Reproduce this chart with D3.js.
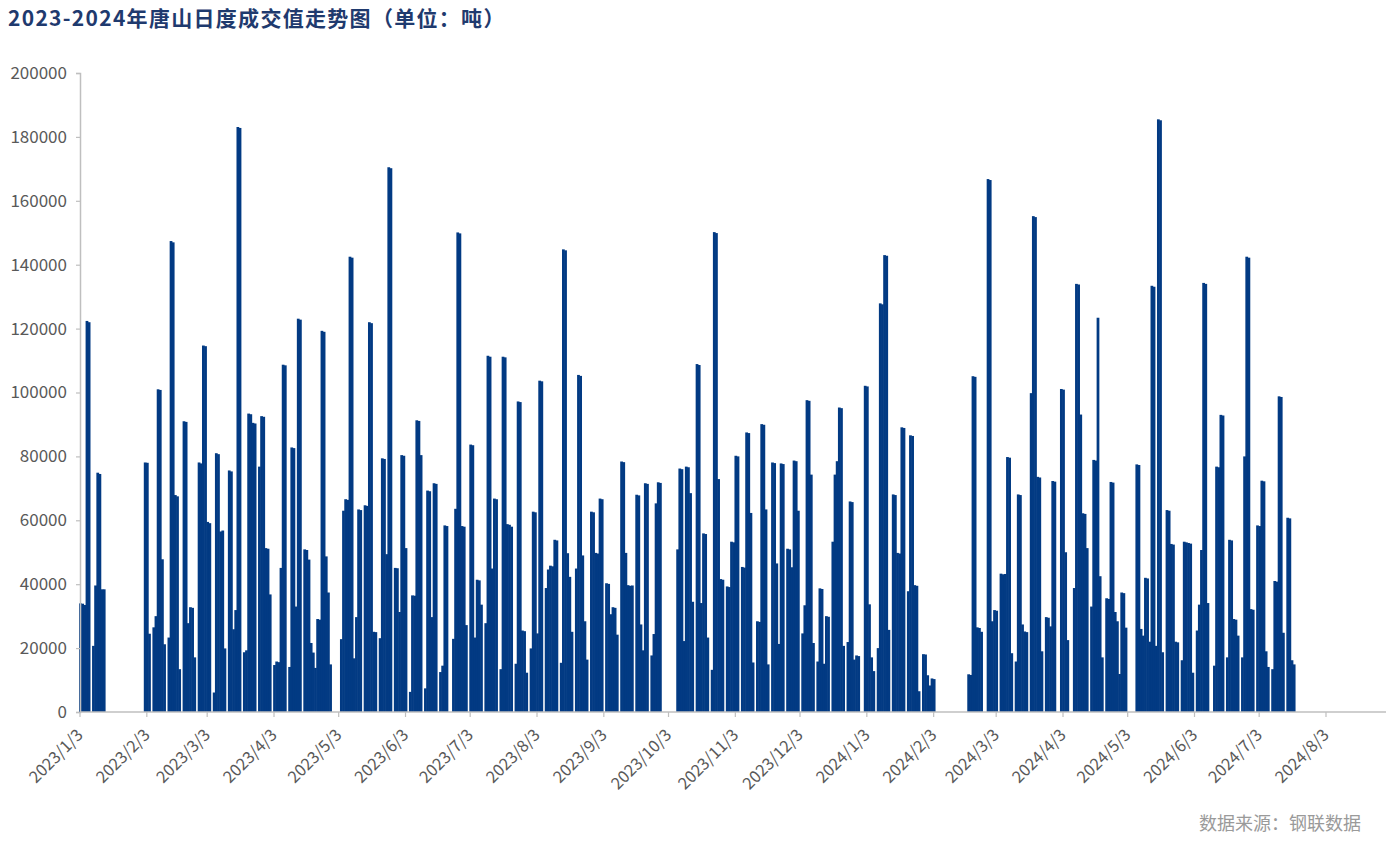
<!DOCTYPE html>
<html><head><meta charset="utf-8">
<script src="https://cdn.jsdelivr.net/npm/d3@7/dist/d3.min.js"></script>
<style>
html,body{margin:0;padding:0;background:#ffffff;}
svg{display:block;}
</style>
</head><body>
<svg id="chart" width="1392" height="849"></svg>
<script>
// ---------------- DATA ----------------
const chartTitle = "2023-2024年唐山日度成交值走势图（单位：吨）";
const sourceNote = "数据来源：钢联数据";
const yTickValues = [0, 20000, 40000, 60000, 80000, 100000, 120000, 140000, 160000, 180000, 200000];
const xTickLabels = ["2023/1/3","2023/2/3","2023/3/3","2023/4/3","2023/5/3","2023/6/3","2023/7/3","2023/8/3",
  "2023/9/3","2023/10/3","2023/11/3","2023/12/3","2024/1/3","2024/2/3","2024/3/3","2024/4/3","2024/5/3",
  "2024/6/3","2024/7/3","2024/8/3"];

// Daily values (tons), one entry per calendar day from the start date; null = no record.
const start2023H1 = "2023-01-03";
const values2023H1 = [
  34000,33900,33500,122400,122000, null,
  20700,39600,74900,74500,38400,38400,
  null,null,null,null,null,null,null,null,null,null,null,null,null,null,null,null,null,null,
  78100,78000,24500, null,
  26500,30000,101000,100800,47800,21200, null,
  23300,147400,147000,67900,67500,13400, null,
  91000,90800,27800,32800,32600,17100, null,
  78100,77800,114700,114500,59500,59100, null,
  6100,81000,80700,56500,56800,19900, null,
  75600,75300,25900,31900,183100,182800, null,
  18700,19300,93400,93200,90500,90300, null,
  76800,92600,92400,51300,51100,36800, null,
  14700,15800,15600,45100,108700,108500, null,
  14100,82800,82600,33000,123100,122800, null,
  50900,50700,47700,21600,18600,13800,29100,28900,119300,119000,48700,37400,14900,
  null,null,null,null,
  22800,63000,66600,66400,142500,142200,16800,29700,63400,63200, null,
  64700,64500,122000,121700,25100,25000, null,
  23100,79400,79200,49400,170500,170200, null,
  45100,45000,31300,80400,80200,51300, null,
  6300,36500,36400,91300,91100,80400, null,
  7400,69300,69100,29700,71600,71400, null,
  12500,14500,58400,58200, null,null,
  22900,63600,150100,149800,58200,58000
];
const start2023H2 = "2023-07-01";
const values2023H2 = [
  27200, null,
  83700,83500,23300,41400,41200,33600, null,
  27800,111500,111200,44900,66800,66600, null,
  13400,111200,111000,58800,58600,58000, null,
  15100,97200,97000,25500,25300,12300, null,
  19900,62700,62500,24600,103700,103500, null,
  38800,44600,45800,45600,53900,53700, null,
  15400,144800,144500,49700,42300,25100, null,
  44900,105500,105200,49000,28400,16400, null,
  62700,62500,49800,49600,66800,66600, null,
  40300,40100,30600,32800,32600,24200, null,
  78400,78200,49800,39700,39500,39600, null,
  68000,67800,27400,19300,71600,71400, null,
  17700,24400,65300,71900,71700,
  null,null,null,null,null,null,null,
  50900,76200,76000,22200,76800,76600,68500,34500, null,
  108900,108600,34100,55900,55700,23300, null,
  13200,150200,149900,72900,41600,41400, null,
  39300,39100,53300,53100,80200,80000, null,
  45400,45200,87500,87300,62300,15500, null,
  28400,28200,90100,89900,63400,14900, null,
  78100,77900,46500,21300,77800,77600, null,
  51100,50900,45300,78700,78500,63000, null,
  24600,33400,97600,97400,74300,21600, null,
  15800,38700,38500,15100,30000,29800, null,
  53300,74300,78500,95300,95100,20700, null,
  21900,65900,65700,16400,17700,17500, null
];
const start2024a = "2024-01-01";
const values2024a = [
  null,
  102100,101900,33700,17100,12800, null,
  20000,127900,127600,143000,142800,25700, null,
  68100,67900,49800,49600,89100,88900, null,
  37800,86600,86400,39700,39500,6500, null,
  18100,18000,11500,8300,10500,10300
];
const start2024b = "2024-02-19";
const values2024b = [
  11800,11600,105100,104900,26500,26300,25100, null,null,
  166800,166500,28400,31900,31700, null,
  43300,43100,43200,79800,79600,18400, null,
  15800,68100,67900,27400,25200,25000, null,
  99800,155200,154900,73600,73400,19000, null,
  29700,29500,26800,72300,72100, null,null,
  101100,100900,50000,22500, null,null,
  38800,134000,133800,93100,62200,62000,51300, null,
  33000,78900,78700,123400,42500,17100, null,
  35600,35400,72000,71800,31300,28400,11900,37400,37200,26400,
  null,null,null,null,
  77500,77300,26000,23900,42000,41800,22000,133400,133100,20700,185500,185200,18700, null,
  63200,63000,52600,52400,22000,21800, null,
  16200,53300,53100,52900,52700,12300, null,
  25500,33600,50700,134300,134000,34100, null,null,
  14500,76800,76600,93000,92800, null,
  17100,53900,53700,29100,28900,23900, null,
  17100,80000,142500,142200,32200,32000, null,
  58400,58200,72400,72200,19000,14100, null,
  13400,41000,40800,98800,98600,24800, null,
  60800,60600,16200,14900
];

// ---------------- BUILD ----------------
const parseISO = d3.utcParse("%Y-%m-%d");
const parseTick = d3.utcParse("%Y/%m/%d");
function expand(startStr, vals) {
  const s = parseISO(startStr);
  return vals.map((v, i) => ({ date: d3.utcDay.offset(s, i), value: v }));
}
const series = [
  ...expand(start2023H1, values2023H1),
  ...expand(start2023H2, values2023H2),
  ...expand(start2024a, values2024a),
  ...expand(start2024b, values2024b)
].filter(d => d.value !== null);

const svg = d3.select("#chart");
const W = 1392, H = 849;
svg.append("rect").attr("width", W).attr("height", H).attr("fill", "#ffffff");

const plotLeft = 80, plotBottom = 712, plotTop = 73, axisRight = 1386;
const xTicksDates = xTickLabels.map(t => parseTick(t));
const x = d3.scaleUtc()
  .domain([xTicksDates[0], xTicksDates[xTicksDates.length - 1]])
  .range([plotLeft, 1326]);
const y = d3.scaleLinear().domain([0, 200000]).range([plotBottom, plotTop]);

const dayW = x(d3.utcDay.offset(xTicksDates[0], 1)) - x(xTicksDates[0]);
const barW = dayW + 0.6;
const barShift = 0.5;

const FONT = "'Noto Sans CJK SC','Noto Sans',sans-serif";
const GREY = "#595959";
const AXIS = "#bfbfbf";

// bars
svg.append("g")
  .selectAll("rect")
  .data(series)
  .join("rect")
  .attr("x", d => x(d.date) + barShift - barW / 2)
  .attr("width", barW)
  .attr("y", d => y(d.value))
  .attr("height", d => y(0) - y(d.value))
  .attr("fill", "#023a83");

// y axis
const yAxis = d3.axisLeft(y).tickValues(yTickValues).tickSize(4).tickPadding(9)
  .tickFormat(d3.format("d"));
const gy = svg.append("g").attr("transform", `translate(${plotLeft},0)`).call(yAxis);
gy.select(".domain").attr("stroke", AXIS).attr("stroke-width", 1.5);
gy.selectAll(".tick line").attr("stroke", AXIS).attr("stroke-width", 1.2);
gy.selectAll(".tick text").attr("fill", GREY).attr("font-size", 17).attr("font-family", FONT);

// x axis
const gx = svg.append("g").attr("transform", `translate(0,${plotBottom})`);
gx.append("line").attr("x1", plotLeft).attr("x2", axisRight).attr("y1", 0).attr("y2", 0)
  .attr("stroke", AXIS).attr("stroke-width", 1.5);
const xt = gx.selectAll("g.xtick").data(xTicksDates).join("g").attr("class", "xtick")
  .attr("transform", d => `translate(${x(d)},0)`);
xt.append("line").attr("y1", 0).attr("y2", 5).attr("stroke", AXIS).attr("stroke-width", 1.2);
xt.append("text")
  .attr("transform", "translate(0,20) rotate(-45)")
  .attr("text-anchor", "end")
  .attr("dy", "0.35em")
  .attr("fill", GREY)
  .attr("font-size", 16.5)
  .attr("font-family", FONT)
  .text((d, i) => xTickLabels[i]);

// title
svg.append("text").attr("x", 8).attr("y", 26)
  .attr("font-family", FONT).attr("font-weight", "bold").attr("font-size", 21)
  .attr("letter-spacing", "1.3px")
  .attr("fill", "#1f3a6e").text(chartTitle);

// source
svg.append("text").attr("x", 1361).attr("y", 830).attr("text-anchor", "end")
  .attr("font-family", FONT).attr("font-size", 18).attr("fill", "#9a9a9a").text(sourceNote);
</script>
</body></html>
